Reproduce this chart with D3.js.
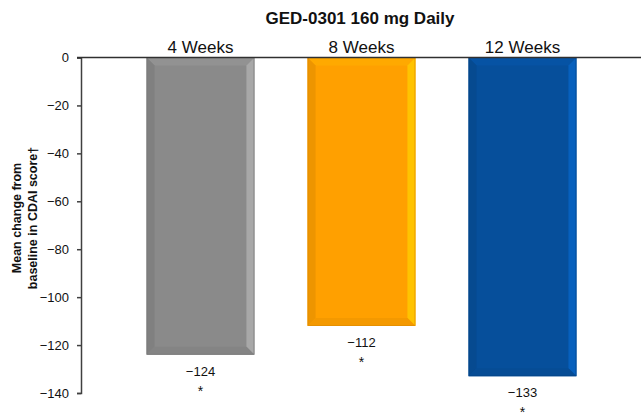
<!DOCTYPE html>
<html><head><meta charset="utf-8">
<script src="https://cdn.jsdelivr.net/npm/d3@7/dist/d3.min.js"></script>
<style>body{margin:0;background:#fff}svg{display:block;font-family:"Liberation Sans",Arial,sans-serif}</style>
</head><body><svg id="c" width="641" height="413"></svg>
<script>
const categories = ["4 Weeks", "8 Weeks", "12 Weeks"];
const values = [-124, -112, -133];
const valueLabels = ["\u2212124", "\u2212112", "\u2212133"];
const significance = ["*", "*", "*"];
const yTicks = [0, -20, -40, -60, -80, -100, -120, -140];
const barColors = ["#8a8a8a", "#ffa000", "#064f9b"];
const title = "GED-0301 160 mg Daily";
const yTitle = ["Mean change from", "baseline in CDAI score\u2020"];

const svg = d3.select("#c");
const x = d3.scaleBand().domain(categories).range([120, 603]).paddingInner(0.33).paddingOuter(0.165);
const y = d3.scaleLinear().domain([0, -140]).range([57.5, 393]);
const axisX = 81;

// bars with bevel
const bev = 8;
categories.forEach((c, i) => {
  const x0 = x(c), x1 = x0 + x.bandwidth(), y0 = y(0), y1 = y(values[i]);
  const col = d3.color(barColors[i]);
  const g = svg.append("g");
  g.append("rect").attr("x", x0).attr("y", y0).attr("width", x1 - x0).attr("height", y1 - y0).attr("fill", col);
  const poly = (pts, fill) => g.append("polygon").attr("points", pts.map(p => p.join(",")).join(" ")).attr("fill", fill);
  poly([[x0, y0], [x1, y0], [x1 - bev, y0 + bev], [x0 + bev, y0 + bev]], col.brighter(0.15));
  poly([[x0, y0], [x0 + bev, y0 + bev], [x0 + bev, y1 - bev], [x0, y1]], col.darker(0.2));
  poly([[x1, y0], [x1, y1], [x1 - bev, y1 - bev], [x1 - bev, y0 + bev]], col.brighter(0.55));
  poly([[x0, y1], [x1, y1], [x1 - bev, y1 - bev], [x0 + bev, y1 - bev]], col.darker(0.12));
  g.append("rect").attr("x", x0 + 0.5).attr("y", y0).attr("width", x1 - x0 - 1).attr("height", y1 - y0 - 0.5)
    .attr("fill", "none").attr("stroke", col.darker(0.4)).attr("stroke-width", 0.6);

  svg.append("text").attr("x", x0 + x.bandwidth() / 2).attr("y", y1 + 21).attr("text-anchor", "middle")
    .attr("font-size", 13).attr("fill", "#111").text(valueLabels[i]);
  svg.append("text").attr("x", x0 + x.bandwidth() / 2).attr("y", y1 + 41).attr("text-anchor", "middle")
    .attr("font-size", 14).attr("fill", "#111").text(significance[i]);
});

// y axis
const yAxis = d3.axisLeft(y).tickValues(yTicks).tickSize(4).tickPadding(8).tickFormat(d => d3.format("d")(d));
const ga = svg.append("g").attr("transform", `translate(${axisX},0)`).call(yAxis);
ga.select(".domain").attr("stroke", "#404040").attr("stroke-width", 1.5);
ga.selectAll(".tick line").attr("stroke", "#404040").attr("stroke-width", 1.5);
ga.selectAll(".tick text").attr("font-size", 13).attr("fill", "#111").attr("font-family", "Liberation Sans, Arial, sans-serif");

// top (zero) line
svg.append("line").attr("x1", axisX - 4).attr("x2", 641).attr("y1", y(0)).attr("y2", y(0))
  .attr("stroke", "#303030").attr("stroke-width", 1.5);

// category labels
const xAxis = d3.axisTop(x).tickSize(0).tickPadding(5);
const gx = svg.append("g").attr("transform", `translate(0,${y(0)})`).call(xAxis);
gx.select(".domain").remove();
gx.selectAll(".tick text").attr("font-size", 17).attr("fill", "#111").attr("font-family", "Liberation Sans, Arial, sans-serif");

// title
svg.append("text").attr("x", 360).attr("y", 24).attr("text-anchor", "middle").attr("font-size", 17)
  .attr("font-weight", "bold").attr("fill", "#111").text(title);

// y title
const yt = svg.append("text").attr("transform", "translate(0,218) rotate(-90)").attr("text-anchor", "middle")
  .attr("font-size", 12.5).attr("font-weight", "bold").attr("fill", "#111");
yTitle.forEach((t, i) => yt.append("tspan").attr("x", 0).attr("y", 21 + i * 16).text(t));
</script></body></html>
